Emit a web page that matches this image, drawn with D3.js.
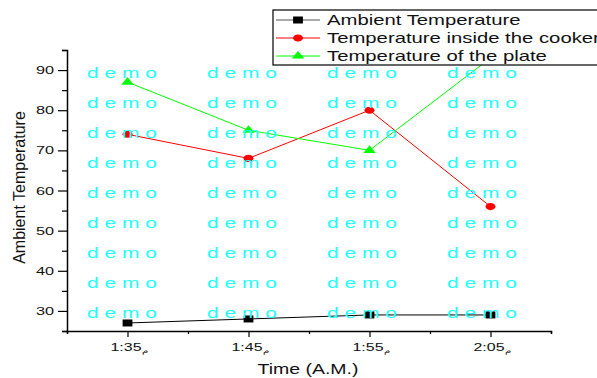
<!DOCTYPE html>
<html>
<head>
<meta charset="utf-8">
<script src="https://cdn.jsdelivr.net/npm/d3@7"></script>
<style>
  body { margin: 0; background: #fff; }
  svg { font-family: "Liberation Sans", Arial, sans-serif; }
</style>
</head>
<body>
<svg id="chart" width="597" height="378"></svg>
<script>
// data
const timeLabels = ["1:35", "1:45", "1:55", "2:05"];
const timeMinutes = [35, 45, 55, 65];
const ambient = [27, 28, 29, 29];
const cooker = [74, 68, 80, 56];
const plate = [87, 75, 70, 93];
const yTicks = [30, 40, 50, 60, 70, 80, 90];

const series = [
  {name: "Ambient Temperature", values: ambient, color: "#000", symbol: "square"},
  {name: "Temperature inside the cooker", values: cooker, color: "#ff0000", symbol: "circle"},
  {name: "Temperature of the plate", values: plate, color: "#00ff00", symbol: "triangle"}
];

const svg = d3.select("#chart");
const frame = {left: 67, right: 551, top: 50, bottom: 331};
const stretch = 1.45; // the original picture is widened horizontally

const x = d3.scaleLinear().domain([30, 70]).range([frame.left, frame.right]);
const y = d3.scaleLinear().domain([25, 95]).range([frame.bottom, frame.top]);

// horizontal text, widened like the source
function wideText(parent, tx, ty, size, anchor, sx) {
  return parent.append("text")
    .attr("transform", `translate(${tx},${ty}) scale(${sx || stretch},1)`)
    .attr("text-anchor", anchor)
    .style("font-size", size + "px")
    .attr("fill", "#111");
}

svg.append("clipPath").attr("id", "plotclip")
  .append("rect").attr("x", frame.left).attr("y", frame.top)
  .attr("width", frame.right - frame.left).attr("height", frame.bottom - frame.top);

// y axis
const yAxis = svg.append("g").attr("transform", `translate(${frame.left},0)`);
yAxis.call(d3.axisLeft(y).tickValues(d3.range(25, 96, 5)).tickSize(5).tickFormat(""));
yAxis.call(g => g.selectAll(".tick line").filter(d => d % 10 === 0).attr("x2", -9));
yTicks.forEach(t => {
  wideText(yAxis, -13, y(t) + 4, 10.5, "end", 1.55).text(t);
});

// x axis
const xAxis = svg.append("g").attr("transform", `translate(0,${frame.bottom})`);
xAxis.call(d3.axisBottom(x).tickValues(d3.range(30, 71, 5)).tickSize(3).tickFormat(""));
xAxis.call(g => g.selectAll(".tick line").filter(d => timeMinutes.includes(d)).attr("y2", 6));
timeMinutes.forEach((t, i) => {
  const lbl = wideText(xAxis, x(t) + 2, 20, 11, "middle");
  lbl.append("tspan").text(timeLabels[i]);
  lbl.append("tspan").attr("dy", 2).style("font-size", "7px").text("م");
});

svg.selectAll(".domain").attr("stroke", "#000").attr("stroke-width", 1.5);
svg.selectAll(".tick line").attr("stroke", "#000").attr("stroke-width", 1.2);

// axis titles
svg.append("text")
  .attr("transform", `translate(25,${(frame.top + frame.bottom) / 2 - 3}) rotate(-90)`)
  .attr("text-anchor", "middle").style("font-size", "16px").attr("fill", "#111")
  .text("Ambient Temperature");
wideText(svg, 308, 374, 15, "middle", 1.3).text("Time (A.M.)");

// lines and markers
const line = d3.line().x((d, i) => x(timeMinutes[i])).y(d => y(d));
const plot = svg.append("g").attr("clip-path", "url(#plotclip)");

function marker(sel, s) {
  const g = sel.append("g").attr("transform", "scale(1.4,1)");
  if (s.symbol === "square") {
    g.append("path").attr("d", d3.symbol(d3.symbolSquare, 49)).attr("fill", s.color);
  } else if (s.symbol === "circle") {
    g.append("path").attr("d", d3.symbol(d3.symbolCircle, 40)).attr("fill", s.color);
  } else {
    g.append("path").attr("d", d3.symbol(d3.symbolTriangle, 34)).attr("fill", s.color);
  }
}

series.forEach(s => {
  plot.append("path").datum(s.values)
    .attr("d", line).attr("fill", "none")
    .attr("stroke", s.color).attr("stroke-width", 1);
  s.values.forEach((v, i) => {
    const g = svg.append("g").attr("transform", `translate(${x(timeMinutes[i])},${y(v)})`);
    marker(g, s);
  });
});

// legend
const legend = svg.append("g").attr("transform", "translate(273,10)");
legend.append("rect").attr("width", 340).attr("height", 55)
  .attr("fill", "#fff").attr("stroke", "#000").attr("stroke-width", 1.2);
series.forEach((s, i) => {
  const rowY = 10 + i * 18;
  const row = legend.append("g").attr("transform", `translate(0,${rowY})`);
  row.append("line").attr("x1", 3).attr("x2", 47).attr("stroke", s.color === "#000" ? "#555" : s.color);
  marker(row.append("g").attr("transform", "translate(25,0)"), s);
  wideText(row, 54, 5, 14, "start").text(s.name);
});

// watermark
const wmCols = [122, 242, 362, 482];
const wmRows = d3.range(0, 9);
wmRows.forEach(r => {
  wmCols.forEach(c => {
    svg.append("text")
      .attr("transform", `translate(${c},${78 + r * 30}) scale(1.5,1)`)
      .attr("text-anchor", "middle")
      .style("font-size", "14px").attr("fill", "#22ffff")
      .text("d e m o");
  });
});
</script>
</body>
</html>
